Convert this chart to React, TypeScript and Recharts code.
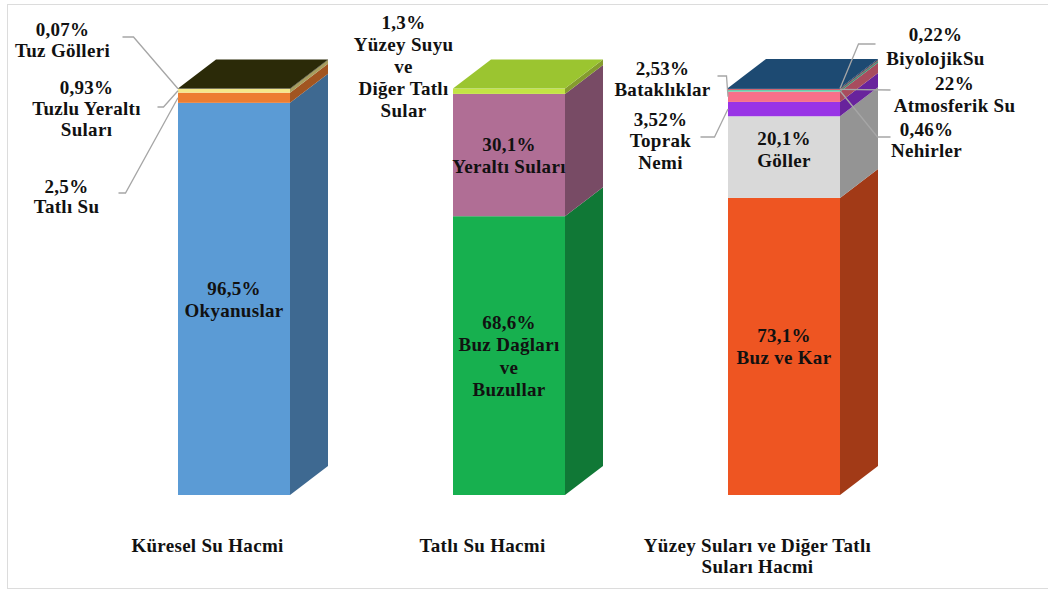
import React from "react";
import { BarChart, Bar, XAxis, YAxis, Cell } from "recharts";

// ---------- DATA ----------
const categories = [
  "Küresel Su Hacmi",
  "Tatlı Su Hacmi",
  "Yüzey Suları ve Diğer Tatlı Suları Hacmi",
];
const categoryLines = [
  ["Küresel Su Hacmi"],
  ["Tatlı Su Hacmi"],
  ["Yüzey Suları ve Diğer Tatlı", "Suları Hacmi"],
];

const kureselValues = [96.5, 2.5, 0.93, 0.07];
const kureselLabels = ["96,5%", "2,5%", "0,93%", "0,07%"];
const kureselNames = [["Okyanuslar"], ["Tatlı Su"], ["Tuzlu Yeraltı", "Suları"], ["Tuz Gölleri"]];

const tatliValues = [68.6, 30.1, 1.3];
const tatliLabels = ["68,6%", "30,1%", "1,3%"];
const tatliNames = [["Buz Dağları", "ve", "Buzullar"], ["Yeraltı Suları"], ["Yüzey Suyu", "ve", "Diğer Tatlı", "Sular"]];

const yuzeyValues = [73.1, 20.1, 3.52, 2.53, 0.46, 0.22, 0.22];
const yuzeyLabels = ["73,1%", "20,1%", "3,52%", "2,53%", "0,46%", "22%", "0,22%"];
const yuzeyNames = [["Buz ve Kar"], ["Göller"], ["Toprak", "Nemi"], ["Bataklıklar"], ["Nehirler"], ["Atmosferik Su"], ["BiyolojikSu"]];

// ---------- STYLE / LAYOUT ----------
const columns = [
  { values: kureselValues, labels: kureselLabels, names: kureselNames },
  { values: tatliValues, labels: tatliLabels, names: tatliNames },
  { values: yuzeyValues, labels: yuzeyLabels, names: yuzeyNames },
];

const columnColors = [
  ["#5b9bd5", "#ed7d31", "#f5e88a", "#2b2a08"],
  ["#17b04f", "#b06e95", "#c3e544"],
  ["#ee5522", "#d9d9d9", "#9933e6", "#f7708a", "#66cdaa", "#d04050", "#1f4e79"],
];
const topFaceColors = ["#2b2a08", "#9bc530", "#1d4a72"];

const DX = 38;
const DY = -29;
const FONT = "Liberation Serif, Times New Roman, DejaVu Serif, serif";
const FS = 19;
const LS = 0.3;

type Ann =
  | { kind: "inside"; gap: number; shift?: number }
  | { kind: "outside"; dx: number; cy: number; gap: number; side: "left" | "right"; leader: number[][] };

// dx values relative to bar front-left x; y values absolute
const annLayout: Ann[][] = [
  [
    { kind: "inside", gap: 22 },
    { kind: "outside", dx: -111.5, cy: 186, gap: 20, side: "left", leader: [[-59.5, 193], [-52.5, 193]] },
    { kind: "outside", dx: -91.5, cy: 87, gap: 21, side: "left", leader: [[-20.5, 107], [-14.5, 107]] },
    { kind: "outside", dx: -115.5, cy: 29, gap: 21, side: "left", leader: [[-55.5, 37], [-44.5, 37]] },
  ],
  [
    { kind: "inside", gap: 22.5 },
    { kind: "inside", gap: 22 },
    { kind: "outside", dx: -49.5, cy: 22, gap: 22, side: "left", leader: [] },
  ],
  [
    { kind: "inside", gap: 22 },
    { kind: "inside", gap: 22, shift: -8 },
    { kind: "outside", dx: -67.5, cy: 119, gap: 21.5, side: "left", leader: [[-27.5, 137], [-13.5, 137]] },
    { kind: "outside", dx: -65.5, cy: 68, gap: 21, side: "left", leader: [[-10.5, 76], [-1.5, 76]] },
    { kind: "outside", dx: 198.5, cy: 129, gap: 21, side: "right", leader: [[162.5, 137], [149.5, 137]] },
    { kind: "outside", dx: 226.5, cy: 83, gap: 22, side: "right", leader: [[162.5, 90]] },
    { kind: "outside", dx: 207.5, cy: 34, gap: 24, side: "right", leader: [[147.5, 44], [130.5, 44]] },
  ],
];

const MAX_LEVELS = Math.max(...columns.map((c) => c.values.length));
const levelKeys = Array.from({ length: MAX_LEVELS }, (_, i) => "l" + i);

const data = categories.map((name, ci) => {
  const row: Record<string, any> = { name };
  columns[ci].values.forEach((v, li) => {
    row["l" + li] = v;
  });
  return row;
});

function darken(hex: string, f: number) {
  const n = parseInt(hex.slice(1), 16);
  const r = Math.round(((n >> 16) & 255) * f);
  const g = Math.round(((n >> 8) & 255) * f);
  const b = Math.round((n & 255) * f);
  return "#" + [r, g, b].map((c) => c.toString(16).padStart(2, "0")).join("");
}

function TextLines({ cx, firstCy, gap, lines }: { cx: number; firstCy: number; gap: number; lines: string[] }) {
  return (
    <g>
      {lines.map((t, i) => (
        <text
          key={i}
          x={cx}
          y={firstCy + i * gap + FS * 0.35}
          textAnchor="middle"
          style={{ fontFamily: FONT, fontWeight: 700, fontSize: FS, letterSpacing: LS }}
          fill="#111"
        >
          {t}
        </text>
      ))}
    </g>
  );
}

function Segment(props: any) {
  const { x, y, width, height, level, payload } = props;
  let ci = props.index;
  if (payload && payload.name) ci = categories.indexOf(payload.name);
  if (ci == null || ci < 0) return null;
  const col = columns[ci];
  if (level >= col.values.length || x == null || y == null || !isFinite(y)) return null;
  const h = Math.max(0, height || 0);
  const w = width;
  const front = columnColors[ci][level];
  const side = darken(front, 0.68);
  const isTop = level === col.values.length - 1;
  const ann = annLayout[ci][level];
  const lines = [col.labels[level], ...col.names[level]];

  let annEl: React.ReactNode = null;
  if (ann.kind === "inside") {
    const mid = y + h / 2 + (ann.shift || 0);
    annEl = <TextLines cx={x + w / 2} firstCy={mid - ((lines.length - 1) * ann.gap) / 2} gap={ann.gap} lines={lines} />;
  } else {
    const anchor = ann.side === "left" ? [x, y + h / 2] : [x + w, y + h / 2];
    const pts = ann.leader.map((p) => [x + p[0], p[1]]);
    annEl = (
      <g>
        {pts.length > 0 && (
          <polyline
            points={[...pts, anchor].map((p) => p.join(",")).join(" ")}
            fill="none"
            stroke="#a6a6a6"
            strokeWidth={1.3}
          />
        )}
        <TextLines cx={x + ann.dx} firstCy={ann.cy} gap={ann.gap} lines={lines} />
      </g>
    );
  }

  return (
    <g>
      <rect x={x} y={y} width={w} height={h} fill={front} />
      <polygon
        points={`${x + w},${y} ${x + w + DX},${y + DY} ${x + w + DX},${y + h + DY} ${x + w},${y + h}`}
        fill={side}
      />
      {isTop && (
        <polygon
          points={`${x},${y} ${x + DX},${y + DY} ${x + w + DX},${y + DY} ${x + w},${y}`}
          fill={topFaceColors[ci]}
        />
      )}
      {annEl}
    </g>
  );
}

function CategoryTick(props: any) {
  const { x, y, index } = props;
  const lines = categoryLines[index] || [String(props.payload?.value ?? "")];
  return (
    <g>
      {lines.map((t: string, i: number) => (
        <text
          key={i}
          x={x - 26}
          y={y + 50 + i * 21 + FS * 0.35}
          textAnchor="middle"
          style={{ fontFamily: FONT, fontWeight: 700, fontSize: FS, letterSpacing: LS }}
          fill="#111"
        >
          {t}
        </text>
      ))}
    </g>
  );
}

export default function App() {
  return (
    <div style={{ position: "absolute", left: 0, top: 0, width: 1048, height: 592, background: "#fff" }}>
      <div
        style={{
          position: "absolute",
          left: 7,
          top: 4,
          width: 1045,
          height: 585,
          border: "1px solid #dcdcdc",
          boxSizing: "border-box",
        }}
      />
      <div style={{ position: "absolute", left: 0, top: 0 }}>
        <BarChart width={1048} height={592} data={data} margin={{ top: 88, right: 127, bottom: 37, left: 96 }}>
          <XAxis
            dataKey="name"
            axisLine={false}
            tickLine={false}
            tickSize={0}
            tickMargin={0}
            height={60}
            interval={0}
            tick={<CategoryTick />}
          />
          <YAxis hide domain={[0, 100]} />
          {levelKeys.map((k, li) => (
            <Bar
              key={k}
              dataKey={k}
              stackId="s"
              barSize={112}
              isAnimationActive={false}
              shape={(p: any) => <Segment {...p} level={li} />}
            >
              {data.map((_, ci) => (
                <Cell key={ci} fill={columnColors[ci][li] || "#000"} />
              ))}
            </Bar>
          ))}
        </BarChart>
      </div>
    </div>
  );
}
